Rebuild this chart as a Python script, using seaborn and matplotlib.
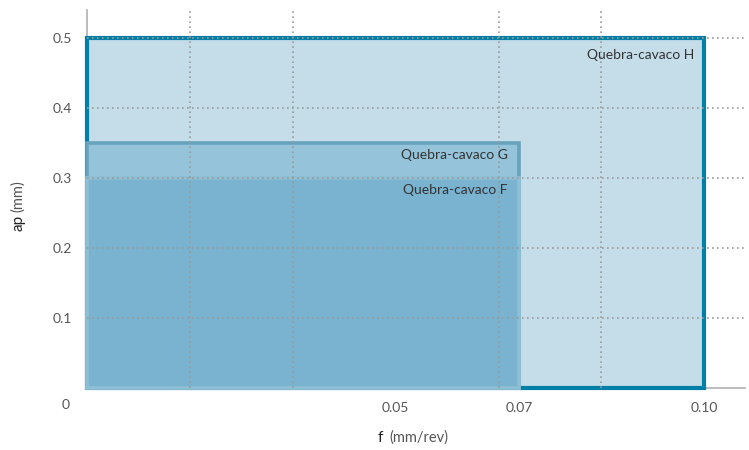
import matplotlib
matplotlib.use('Agg')
import matplotlib.pyplot as plt
import numpy as np
import seaborn as sns

# chip breaker application areas: feed f (mm/rev) x depth of cut ap (mm)
breakers = ['Quebra-cavaco H', 'Quebra-cavaco G', 'Quebra-cavaco F']
f_max = [0.10, 0.07, 0.07]
ap_max = [0.50, 0.35, 0.30]
fills = ['#c4dde9', '#95c4da', '#79b3d0']
edges = ['#0080a6', '#67a3bd', '#8ebfd4']
edge_w = [3.0, 2.6, 2.6]

x_ticks = [0.05, 0.07, 0.10]
x_tick_labels = ['0.05', '0.07', '0.10']
y_ticks = [0.1, 0.2, 0.3, 0.4, 0.5]
y_tick_labels = ['0.1', '0.2', '0.3', '0.4', '0.5']

sns.set_style('white')
plt.rcParams['font.family'] = ['Lato', 'DejaVu Sans']

fig = plt.figure(figsize=(7.49, 4.5), dpi=100)
ax = fig.add_axes([0.1162, 0.1378, 0.8785, 0.84])

for name, fm, am, fc, ec, lw in zip(breakers, f_max, ap_max, fills, edges, edge_w):
    ax.bar(0, am, width=fm, align='edge', color=fc, edgecolor=ec,
           linewidth=lw, clip_on=False, zorder=2)

# labels inside the boxes
ax.text(0.0983, 0.475, breakers[0], ha='right', va='center', fontsize=10,
        color='#333333', zorder=5)
ax.text(0.0681, 0.333, breakers[1], ha='right', va='center', fontsize=10,
        color='#333333', zorder=5)
ax.text(0.0681, 0.283, breakers[2], ha='right', va='center', fontsize=10,
        color='#333333', zorder=5)

ax.set_xlim(0, 0.1066)
ax.set_ylim(0, 0.54)

ax.set_xticks(x_ticks)
ax.set_xticklabels(x_tick_labels)
ax.set_xticks(np.arange(1, 7) * 0.1 / 6, minor=True)
ax.set_yticks(y_ticks)
ax.set_yticklabels(y_tick_labels)
ax.tick_params(axis='both', which='both', length=0, labelsize=10,
               labelcolor='#555555')
ax.tick_params(axis='x', pad=10)
ax.tick_params(axis='y', pad=11)

# grid above the boxes, spines under them
ax.set_axisbelow(False)
ax.grid(False)
ax.grid(True, which='minor', axis='x', linestyle=(0, (1, 2)),
        color='#9a9a9a', linewidth=1.2)
ax.grid(True, which='major', axis='y', linestyle=(0, (1, 2)),
        color='#9a9a9a', linewidth=1.2)

for s in ['top', 'right']:
    ax.spines[s].set_visible(False)
for s in ['left', 'bottom']:
    ax.spines[s].set_color('#b0b0b0')
    ax.spines[s].set_linewidth(1.2)
    ax.spines[s].set_zorder(1)

# origin label at the corner
fig.text(66 / 749, 1 - 405 / 450, '0', ha='center', va='center',
         fontsize=10, color='#555555')

# axis titles
fig.text(378 / 749, 1 - 438 / 450, 'f', ha='left', va='center',
         fontsize=11, color='#222222')
fig.text(389 / 749, 1 - 438 / 450, '(mm/rev)', ha='left', va='center',
         fontsize=10.5, color='#555555')
fig.text(18 / 749, 1 - 223 / 450, 'ap', ha='center', va='center',
         rotation=90, fontsize=11, color='#222222')
fig.text(18 / 749, 1 - 196 / 450, '(mm)', ha='center', va='center',
         rotation=90, fontsize=10.5, color='#555555')

fig.savefig('out.png', dpi=100)
